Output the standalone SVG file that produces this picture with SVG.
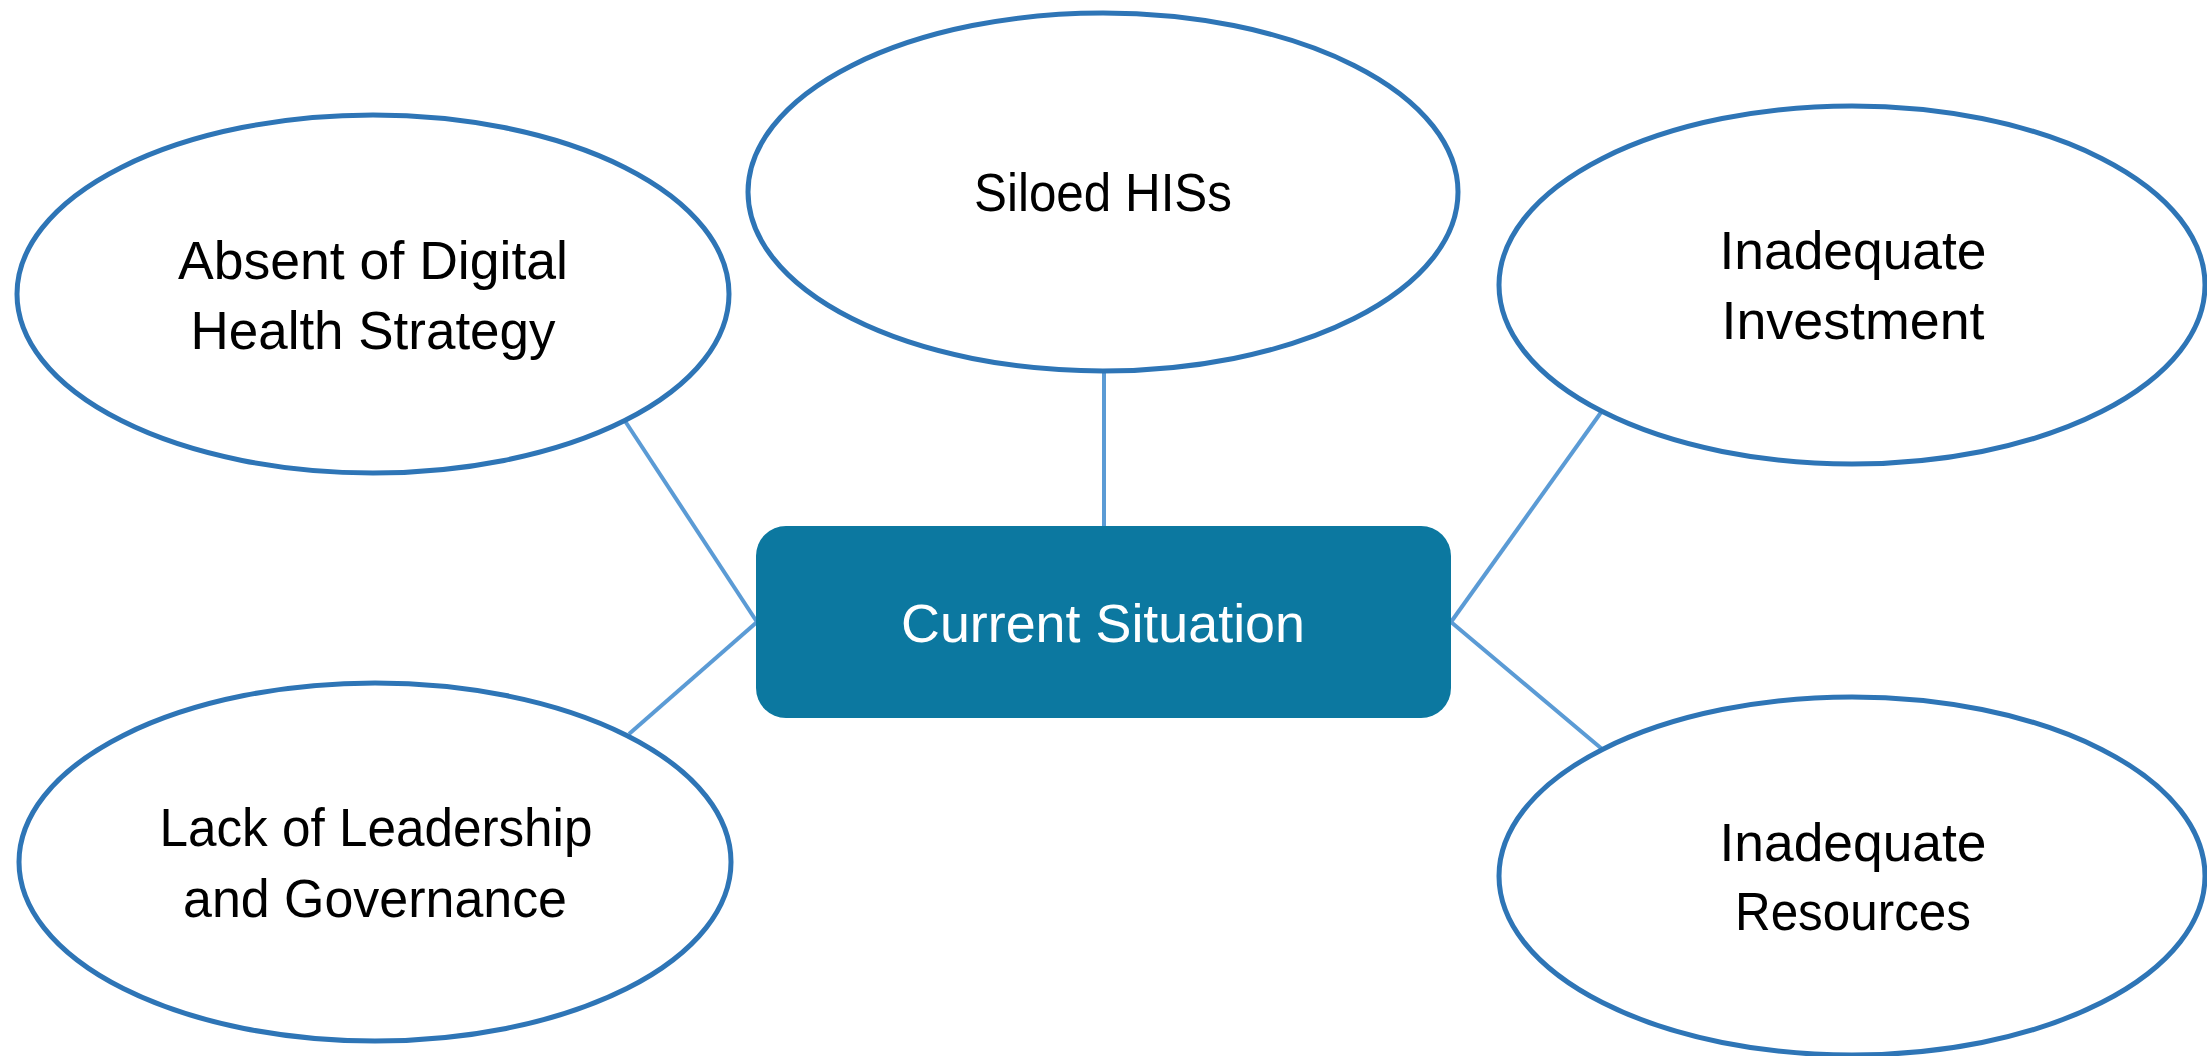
<svg xmlns="http://www.w3.org/2000/svg" width="2207" height="1056" viewBox="0 0 2207 1056">
<style>
.bub{fill:#ffffff;stroke:#2E75B6;stroke-width:5}
.lbl{font-family:"Liberation Sans",Arial,sans-serif;font-size:54px;fill:#000000;text-anchor:middle}
.con{stroke:#5B9BD5;stroke-width:4;fill:none}
.main{fill:#0C78A0}
.mlbl{font-family:"Liberation Sans",Arial,sans-serif;font-size:53px;fill:#ffffff;text-anchor:middle}
</style>
<rect width="2207" height="1056" fill="#ffffff"/>
<g id="connectors">
<line class="con" x1="625" y1="421" x2="757" y2="622"/>
<line class="con" x1="757" y1="622" x2="629" y2="734"/>
<line class="con" x1="1104" y1="371" x2="1104" y2="526"/>
<line class="con" x1="1602" y1="411" x2="1451" y2="622"/>
<line class="con" x1="1451" y1="622" x2="1602" y2="749"/>
</g>
<g id="node-absent">
<ellipse class="bub" cx="373" cy="294" rx="356" ry="179"/>
<text class="lbl" x="373" y="279" textLength="390" lengthAdjust="spacingAndGlyphs">Absent of Digital</text>
<text class="lbl" x="373" y="349" textLength="365" lengthAdjust="spacingAndGlyphs">Health Strategy</text>
</g>
<g id="node-siloed">
<ellipse class="bub" cx="1103" cy="192" rx="355" ry="179"/>
<text class="lbl" x="1103" y="211" textLength="258" lengthAdjust="spacingAndGlyphs">Siloed HISs</text>
</g>
<g id="node-investment">
<ellipse class="bub" cx="1852" cy="285" rx="353" ry="179"/>
<text class="lbl" x="1853" y="269" textLength="267" lengthAdjust="spacingAndGlyphs">Inadequate</text>
<text class="lbl" x="1853" y="339" textLength="263" lengthAdjust="spacingAndGlyphs">Investment</text>
</g>
<g id="node-leadership">
<ellipse class="bub" cx="375" cy="862" rx="356" ry="179"/>
<text class="lbl" x="376" y="846" textLength="433" lengthAdjust="spacingAndGlyphs">Lack of Leadership</text>
<text class="lbl" x="375" y="917" textLength="384" lengthAdjust="spacingAndGlyphs">and Governance</text>
</g>
<g id="node-resources">
<ellipse class="bub" cx="1852" cy="876" rx="353" ry="179"/>
<text class="lbl" x="1853" y="861" textLength="267" lengthAdjust="spacingAndGlyphs">Inadequate</text>
<text class="lbl" x="1853" y="930" textLength="236" lengthAdjust="spacingAndGlyphs">Resources</text>
</g>
<g id="node-current">
<rect class="main" x="756" y="526" width="695" height="192" rx="30" ry="30"/>
<text class="mlbl" x="1103" y="642" textLength="404" lengthAdjust="spacingAndGlyphs">Current Situation</text>
</g>
</svg>
